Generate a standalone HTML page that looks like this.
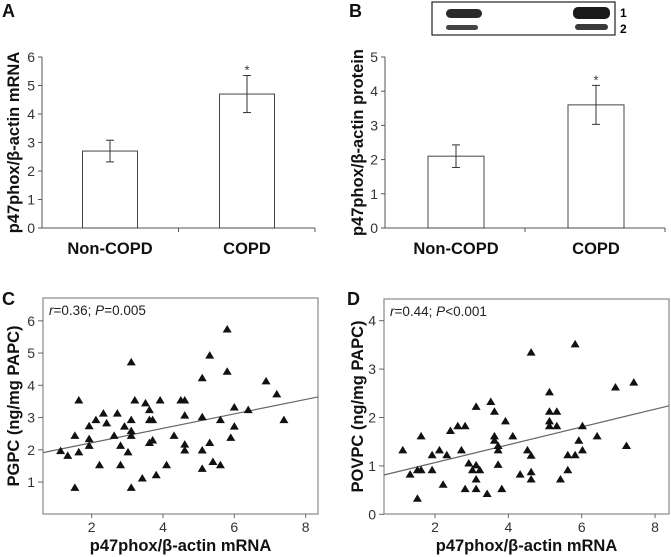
<!DOCTYPE html>
<html><head><meta charset="utf-8"><style>
body{margin:0;background:#fff;}
svg{display:block;font-family:"Liberation Sans",sans-serif;}
.tk{font-size:14px;fill:#333;}
.ti{font-size:16.5px;font-weight:bold;fill:#111;}
.pl{font-size:18px;font-weight:bold;fill:#111;}
</style></head><body>
<svg id="s" width="671" height="557"></svg>
<script>
const barCats=["Non-COPD","COPD"];
const barA=[2.7,4.7];
const errA=[0.38,0.65];
const barB=[2.1,3.6];
const errB=[0.33,0.57];
const ticksA=[0,1,2,3,4,5,6];
const ticksB=[0,1,2,3,4,5];
const cX=[1.13,1.33,1.53,1.53,1.64,1.64,1.93,1.93,1.93,2.12,2.22,2.33,2.42,2.63,2.72,2.81,2.81,2.92,3.02,3.11,3.11,3.11,3.11,3.11,3.21,3.42,3.51,3.62,3.62,3.71,3.62,3.71,3.81,3.92,4.10,4.31,4.50,4.61,4.61,4.61,4.61,5.10,5.10,5.10,5.10,5.31,5.31,5.40,5.61,5.61,5.80,5.80,5.90,6.00,6.00,6.39,6.89,7.19,7.39];
const cY=[1.96,1.81,2.43,0.82,3.53,1.92,2.73,2.33,2.12,2.92,1.52,3.12,2.82,2.43,3.12,2.12,1.52,2.72,1.92,4.71,2.92,2.58,2.43,0.82,3.53,1.11,3.44,3.23,2.92,2.92,2.21,2.29,1.21,3.53,1.52,2.43,3.53,3.53,3.06,2.16,1.98,4.22,3.01,1.98,1.41,4.92,2.21,1.62,2.92,1.52,5.73,4.42,2.37,3.31,2.72,3.23,4.12,3.72,2.92];
const cFit=[1.77,0.224];
const dX=[1.12,1.32,1.52,1.62,1.52,1.62,1.92,1.92,2.12,2.22,2.32,2.42,2.62,2.72,2.82,2.82,2.92,3.02,3.12,3.12,3.12,3.12,3.22,3.42,3.52,3.62,3.62,3.62,3.72,3.72,3.72,3.82,3.92,4.12,4.32,4.52,4.62,4.62,4.62,4.62,5.12,5.12,5.12,5.12,5.32,5.32,5.42,5.62,5.62,5.82,5.82,5.92,6.02,6.02,6.42,6.92,7.22,7.42];
const dY=[1.32,0.82,0.91,0.91,0.32,1.61,1.22,0.91,1.32,0.61,1.22,1.72,1.82,1.32,1.82,0.52,1.05,0.91,1.01,2.22,0.72,0.52,0.91,0.42,2.32,2.12,1.61,1.52,1.41,1.32,1.02,0.52,1.92,1.61,0.82,1.32,3.34,1.21,0.87,0.72,2.52,2.12,1.92,1.82,2.12,1.82,0.72,1.22,0.91,3.51,1.22,1.52,1.82,1.32,1.61,2.62,1.41,2.72];
const dFit=[0.70,0.184];
const xTicks=[2,4,6,8];
const cYT=[1,2,3,4,5,6];
const dYT=[0,1,2,3,4];

const S=document.getElementById('s');const NS="http://www.w3.org/2000/svg";
function el(t,a,txt,name){const e=document.createElementNS(NS,t);for(const k in a)e.setAttribute(k,a[k]);if(txt!=null)e.textContent=txt;


S.appendChild(e);return e;}
function line(x1,y1,x2,y2,n,c,w){return el('line',{x1,y1,x2,y2,stroke:c||'#555','stroke-width':w||1},null,n);}

function barPanel(p,axX,axR,y0,ppu,ticks,vals,errs,centers,bw,title,tx){
  line(axX,y0,axX,y0-ppu*ticks[ticks.length-1],p+'-y-axis');
  line(axX,y0,axR,y0,p+'-x-axis');
  ticks.forEach(t=>{const y=y0-t*ppu;line(axX-4,y,axX,y,p+'-y-tick');el('text',{x:axX-7,y:y+5,'text-anchor':'end',class:'tk'},t,p+'-y-tick-label');});
  line((axX+axR)/2,y0,(axX+axR)/2,y0+4,p+'-x-tick');line(axR,y0,axR,y0+4,p+'-x-tick');
  vals.forEach((v,i)=>{const cx=centers[i];const top=y0-v*ppu;
    el('rect',{x:cx-bw/2,y:top,width:bw,height:v*ppu,fill:'#fff',stroke:'#444','stroke-width':1},null,p+'-bar-'+barCats[i].toLowerCase());
    const e1=y0-(v+errs[i])*ppu,e2=y0-(v-errs[i])*ppu;
    line(cx,e1,cx,e2,p+'-error-bar','#333');line(cx-4,e1,cx+4,e1,p+'-error-cap','#333');line(cx-4,e2,cx+4,e2,p+'-error-cap','#333');
    if(i==1)el('text',{x:cx,y:e1-1,'text-anchor':'middle','font-size':'13px',fill:'#333'},'*',p+'-significance-star');
    el('text',{x:cx,y:y0+26,'text-anchor':'middle',class:'ti'},barCats[i],p+'-x-label');});
  el('text',{x:0,y:0,transform:`translate(${tx},${y0-ppu*ticks[ticks.length-1]/2}) rotate(-90)`,'text-anchor':'middle',class:'ti'},title,p+'-y-axis-title');
}
barPanel('a',42,315,228,28.5,ticksA,barA,errA,[110,247],55,'p47phox/β-actin mRNA',19);
barPanel('b',385,665,228,34.2,ticksB,barB,errB,[456,596],56,'p47phox/β-actin protein',363);
el('text',{x:2,y:17,class:'pl'},'A','panel-a-label');
el('text',{x:349,y:17,class:'pl'},'B','panel-b-label');
el('text',{x:2,y:305,class:'pl'},'C','panel-c-label');
el('text',{x:347,y:305,class:'pl'},'D','panel-d-label');
// blot
el('rect',{x:432,y:2,width:183,height:33,fill:'#fff',stroke:'#222','stroke-width':1.2},null,'western-blot');
el('rect',{x:446,y:9,width:36,height:9,rx:4.5,fill:'#2a2a2a'},null,'blot-band');
el('rect',{x:446,y:25,width:32,height:5,rx:2.5,fill:'#444'},null,'blot-band');
el('rect',{x:573,y:7,width:37,height:12,rx:5,fill:'#1a1a1a'},null,'blot-band');
el('rect',{x:575,y:24,width:33,height:6,rx:3,fill:'#3a3a3a'},null,'blot-band');
el('text',{x:620,y:17,'font-size':'12px','font-weight':'bold'},'1','blot-label-1');
el('text',{x:620,y:33,'font-size':'12px','font-weight':'bold'},'2','blot-label-2');

function scatter(p,bx,br,bt,bb,x0,xp,y0,yp,xs,ys,fit,yt,title,tx,stat){
  el('rect',{x:bx,y:bt,width:br-bx,height:bb-bt,fill:'none',stroke:'#888','stroke-width':1.2},null,p+'-plot-frame');
  xTicks.forEach(t=>{const x=x0+t*xp;line(x,bb,x,bb+4,p+'-x-tick','#666');el('text',{x:x,y:bb+18,'text-anchor':'middle',class:'tk'},t,p+'-x-tick-label');});
  yt.forEach(t=>{const y=y0-t*yp;line(bx-5,y,bx,y,p+'-y-tick','#666');el('text',{x:bx-8,y:y+5,'text-anchor':'end',class:'tk'},t,p+'-y-tick-label');});
  const xa=(bx-x0)/xp,xb=(br-x0)/xp;
  line(bx,y0-(fit[0]+fit[1]*xa)*yp,br,y0-(fit[0]+fit[1]*xb)*yp,p+'-regression-line','#666',1.2);
  xs.forEach((v,i)=>{const x=x0+v*xp,y=y0-ys[i]*yp;
    el('polygon',{points:`${x},${y-4.5} ${x-4.5},${y+3} ${x+4.5},${y+3}`,fill:'#111'},null,p+'-point');});
  const st=el('text',{x:bx+6,y:bt+17,'font-size':'13.5px',fill:'#222'},null,p+'-stat-annotation');
  st.innerHTML=stat;
  el('text',{x:0,y:0,transform:`translate(${tx},${(bt+bb)/2}) rotate(-90)`,'text-anchor':'middle',class:'ti'},title,p+'-y-axis-title');
  el('text',{x:(bx+br)/2,y:551,'text-anchor':'middle',class:'ti'},'p47phox/β-actin mRNA',p+'-x-axis-title');
}
scatter('c',43,318,298,514,20.3,35.67,514.3,32.25,cX,cY,cFit,cYT,'PGPC (ng/mg PAPC)',19,'<tspan font-style="italic">r</tspan>=0.36; <tspan font-style="italic">P</tspan>=0.005');
scatter('d',384,669,299,514,361.7,36.67,514.3,48.4,dX,dY,dFit,dYT,'POVPC (ng/mg PAPC)',363,'<tspan font-style="italic">r</tspan>=0.44; <tspan font-style="italic">P</tspan>&lt;0.001');
</script>
</body></html>
